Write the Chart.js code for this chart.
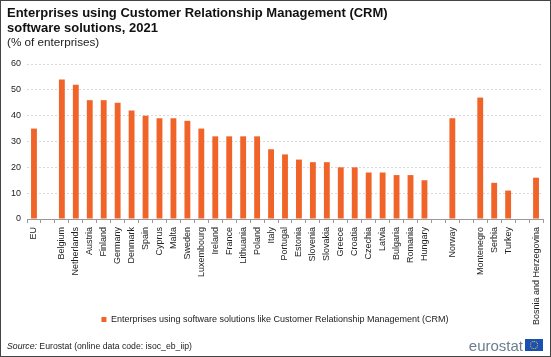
<!DOCTYPE html>
<html>
<head>
<meta charset="utf-8">
<script src="https://cdn.jsdelivr.net/npm/chart.js@4/dist/chart.umd.min.js"></script>
<style>
  html, body { margin: 0; padding: 0; background: #fff; }
  #wrap { position: relative; width: 551px; height: 357px; box-sizing: border-box; border: 1px solid #444; overflow: hidden; font-family: "Liberation Sans", Arial, sans-serif; }
  #cv { position: absolute; left: 0; top: 0; }
  .t { position: absolute; left: 6px; white-space: nowrap; color: #111; }
  #t1 { top: 4px; font-size: 13px; font-weight: bold; line-height: 15px; }
  #t2 { top: 34px; font-size: 11.7px; color: #222; }
  #src { position: absolute; left: 6px; top: 340px; font-size: 8.7px; color: #222; }
  #src em { font-style: italic; }
  #logo { position: absolute; right: 7px; top: 336px; height: 16px; display: flex; align-items: center; }
  #logo span { font-size: 15px; color: #6c7d8e; margin-right: 2px; }
  #flag { width: 18px; height: 12px; background: #1a4fb5; position: relative; }
  #flag i { position: absolute; left: 5px; top: 2px; width: 6px; height: 6px; border: 1px dotted #ffd200; border-radius: 50%; }
</style>
</head>
<body>
<div id="wrap">
  <canvas id="cv" width="551" height="357"></canvas>
  <div class="t" id="t1">Enterprises using Customer Relationship Management (CRM)<br>software solutions, 2021</div>
  <div class="t" id="t2">(% of enterprises)</div>
  <div id="src"><em>Source:</em> Eurostat (online data code: isoc_eb_iip)</div>
  <div id="logo"><span>eurostat</span><div id="flag"><i></i></div></div>
</div>
<script>
const categories = ["EU", "", "Belgium", "Netherlands", "Austria", "Finland", "Germany", "Denmark", "Spain", "Cyprus", "Malta", "Sweden", "Luxembourg", "Ireland", "France", "Lithuania", "Poland", "Italy", "Portugal", "Estonia", "Slovenia", "Slovakia", "Greece", "Croatia", "Czechia", "Latvia", "Bulgaria", "Romania", "Hungary", "", "Norway", "", "Montenegro", "Serbia", "Turkey", "", "Bosnia and Herzegovina"];
const crmValues = [35, null, 54, 52, 46, 46, 45, 42, 40, 39, 39, 38, 35, 32, 32, 32, 32, 27, 25, 23, 22, 22, 20, 20, 18, 18, 17, 17, 15, null, 39, null, 47, 14, 11, null, 16];
const yTicks = [0, 10, 20, 30, 40, 50, 60];
const seriesLabel = "Enterprises using software solutions like Customer Relationship Management (CRM)";

Chart.defaults.font.family = '"Liberation Sans", Arial, sans-serif';
Chart.defaults.color = '#222';

new Chart(document.getElementById('cv'), {
  type: 'bar',
  data: {
    labels: categories,
    datasets: [{
      label: seriesLabel,
      data: crmValues,
      backgroundColor: '#f0642a',
      borderWidth: 0,
      barPercentage: 0.42,
      categoryPercentage: 1.0
    }]
  },
  options: {
    responsive: false,
    animation: false,
    devicePixelRatio: 1,
    layout: { padding: { top: 63, left: 6, right: 9, bottom: 24 } },
    plugins: {
      title: { display: false },
      tooltip: { enabled: false },
      legend: {
        display: true,
        position: 'bottom',
        labels: { boxWidth: 5, boxHeight: 5, padding: 4, font: { size: 9 }, color: '#222' }
      }
    },
    scales: {
      x: {
        offset: true,
        grid: { display: true, drawOnChartArea: false, drawTicks: true, tickLength: 4, color: '#999', offset: true },
        border: { display: true, color: '#999' },
        ticks: { autoSkip: false, maxRotation: 90, minRotation: 90, font: { size: 9 }, color: '#222', padding: 4 },
        afterFit: (s) => { s.height = 92; s._computeLabelArea = () => undefined; }
      },
      y: {
        min: 0, max: 60,
        afterBuildTicks: (s) => { s.ticks = yTicks.map(v => ({ value: v })); },
        grid: { color: '#d9d9d9', drawTicks: false },
        border: { display: false, dash: [2, 2] },
        ticks: { font: { size: 9 }, color: '#222', padding: 6 },
        afterFit: (s) => { s.width = 20; }
      }
    }
  }
});
</script>
</body>
</html>
